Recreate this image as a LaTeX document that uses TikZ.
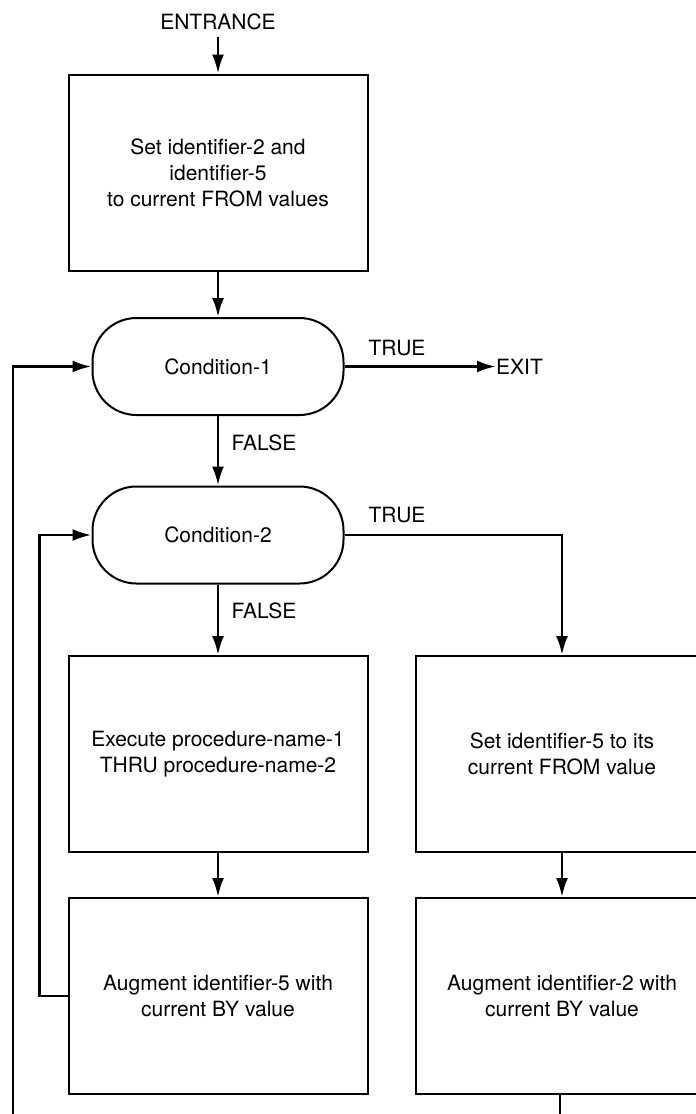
\documentclass[tikz,border=0pt]{standalone}
\usepackage{fontspec}
\setmainfont{TeX Gyre Heros}
\usetikzlibrary{arrows.meta}
\begin{document}
\begin{tikzpicture}[x=1pt,y=-1pt,
  every node/.style={font=\fontsize{21}{26}\selectfont},
  procbox/.style={draw, line width=2pt, minimum width=299pt, minimum height=196pt, align=center, inner sep=0pt},
  testbox/.style={draw, line width=2pt, rounded corners=44pt, minimum width=251pt, minimum height=97pt, inner sep=0pt},
  lbl/.style={inner sep=0pt},
  flow/.style={line width=2.8pt, -{Latex[length=19pt,width=12pt]}},
  wire/.style={line width=2.8pt}
]
\useasboundingbox (0,0) rectangle (696,1114);

\node[lbl] (entr) at (218,22) {ENTRANCE};
\coordinate (entrfoot) at (218,37);

\node[procbox] (init) at (218,172.5) {Set identifier-2 and\\identifier-5\\to current FROM values};
\node[testbox] (c1) at (218,366.5) {Condition-1};
\node[testbox] (c2) at (218,535) {Condition-2};
\node[procbox] (exec) at (218,754) {Execute procedure-name-1\\THRU procedure-name-2};
\node[procbox] (aug5) at (218,996) {Augment identifier-5 with\\current BY value};
\node[procbox, minimum width=292pt] (set5) at (562,754) {Set identifier-5 to its\\current FROM value};
\node[procbox, minimum width=292pt] (aug2) at (562,996) {Augment identifier-2 with\\current BY value};

\node[lbl, anchor=west] (exit) at (496,366.5) {EXIT};
\node[lbl] (t1) at (397,348) {TRUE};
\node[lbl] (f1) at (264,443) {FALSE};
\node[lbl] (t2) at (397,515) {TRUE};
\node[lbl] (f2) at (264,611) {FALSE};

\coordinate (outerbot) at (13,1114);
\coordinate (rightbot) at (560,1114);

% main line
\draw[flow] (entrfoot) -- (init.north);
\draw[flow] (init) -- (c1);
\draw[flow] (c1) -- (c2);
\draw[flow] (c2) -- (exec);
\draw[flow] (exec) -- (aug5);
\draw[flow] (c1.east) -- (exit.west);

% TRUE branch of Condition-2
\draw[flow] (c2.east) -| (set5.north);
\draw[flow] (set5) -- (aug2);

% loops back
\draw[flow] (aug5.west) -- ++(-28,0) |- (c2.west);
\draw[flow] (outerbot) |- (c1.west);
\draw[wire] (aug2.south -| rightbot) -- (rightbot);
\end{tikzpicture}
\end{document}
